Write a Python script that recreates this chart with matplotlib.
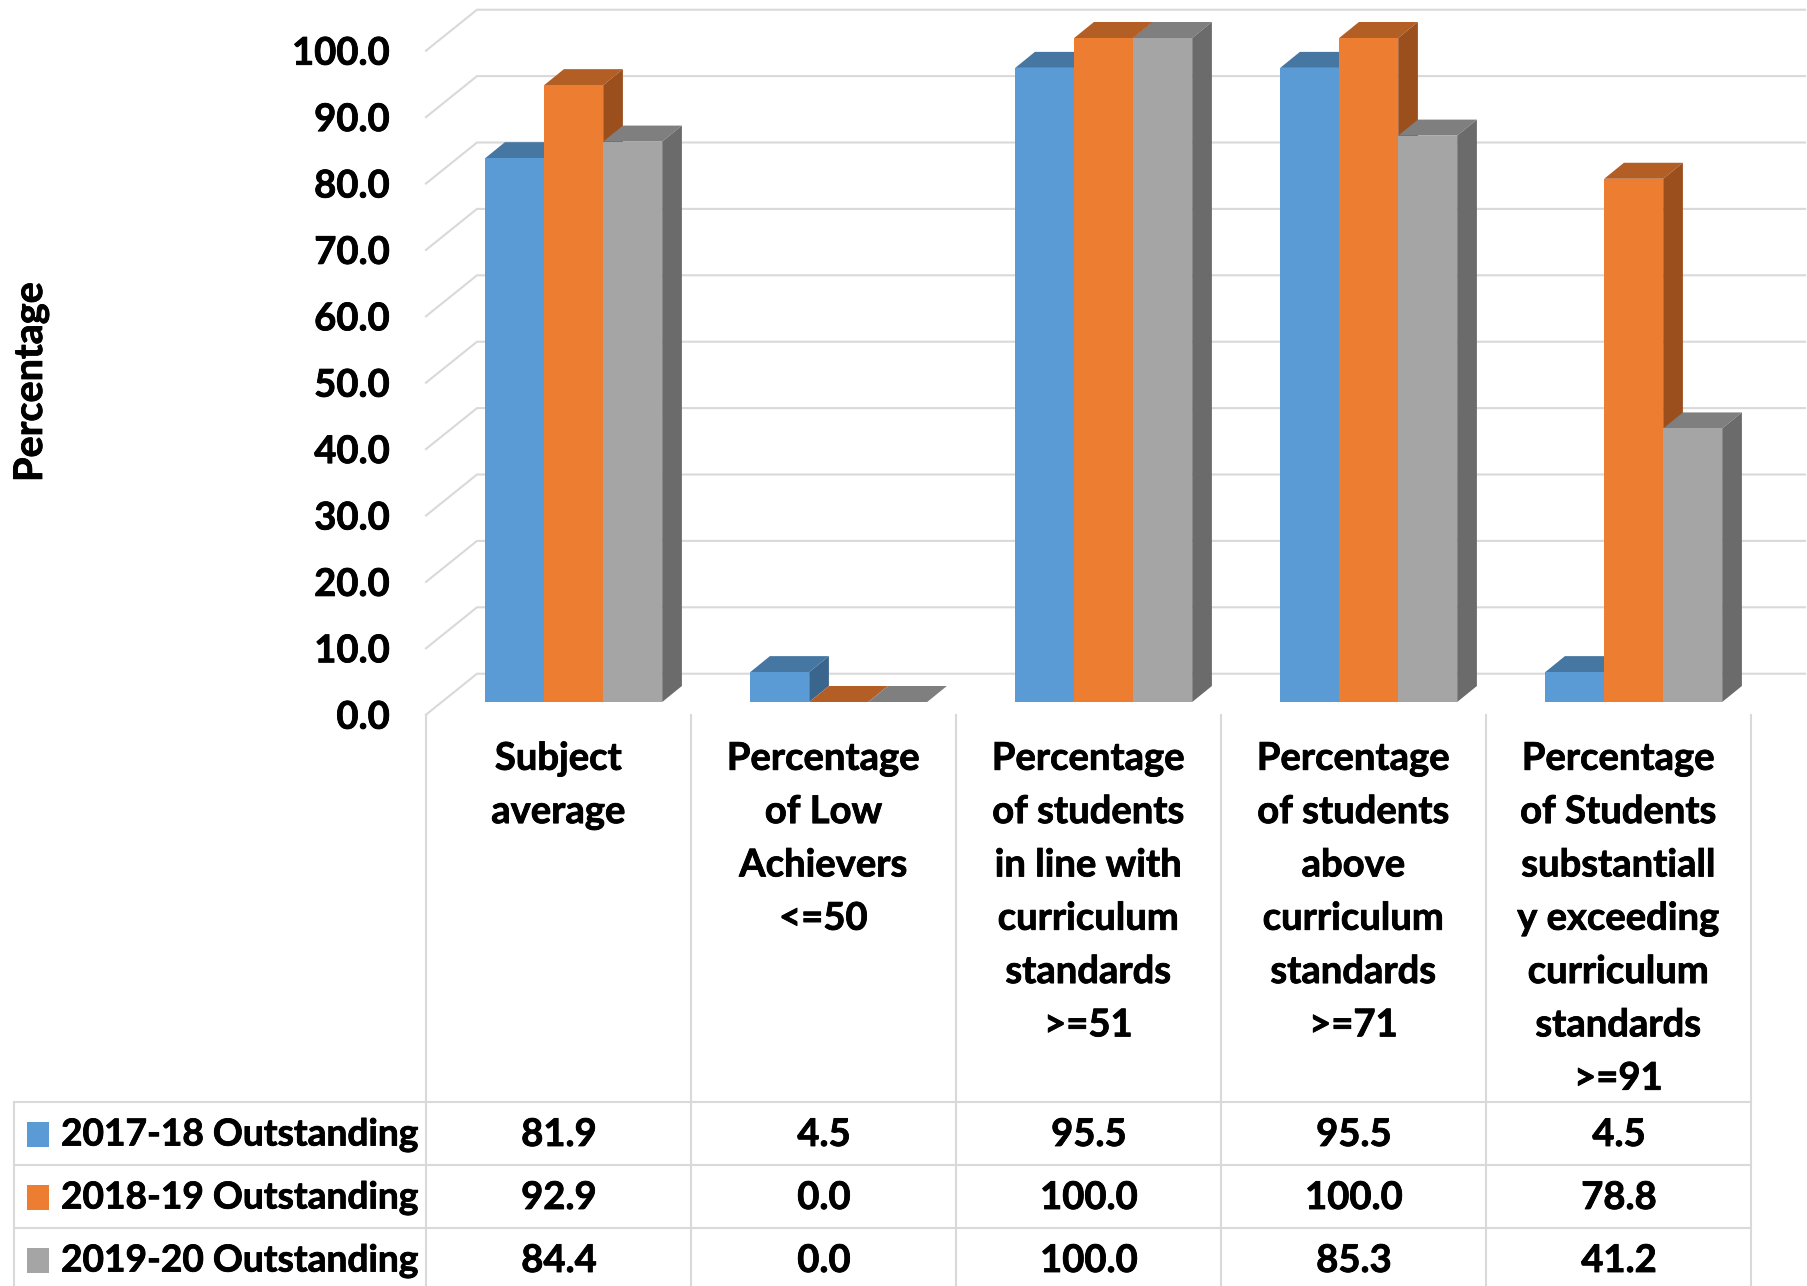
import numpy as np
import matplotlib
matplotlib.use('Agg')
import matplotlib.pyplot as plt
import matplotlib.patheffects as pe
from matplotlib.patches import Polygon, Rectangle
from matplotlib.text import Text

plt.rcParams['font.family'] = ['Lato', 'DejaVu Sans']
plt.rcParams['font.weight'] = 'bold'

# Data
categories = ['Subject\naverage',
              'Percentage\nof Low\nAchievers\n<=50',
              'Percentage\nof students\nin line with\ncurriculum\nstandards\n>=51',
              'Percentage\nof students\nabove\ncurriculum\nstandards\n>=71',
              'Percentage\nof Students\nsubstantiall\ny exceeding\ncurriculum\nstandards\n>=91']
series_names = ['2017-18 Outstanding', '2018-19 Outstanding', '2019-20 Outstanding']
values_1718 = [81.9, 4.5, 95.5, 95.5, 4.5]
values_1819 = [92.9, 0.0, 100.0, 100.0, 78.8]
values_1920 = [84.4, 0.0, 100.0, 85.3, 41.2]
y_ticks = [0, 10, 20, 30, 40, 50, 60, 70, 80, 90, 100]

# front, top, side colours for each series
front_colors = ['#5B9BD5', '#ED7D31', '#A5A5A5']
top_colors = ['#4677A3', '#B35E24', '#7F7F7F']
side_colors = ['#3A658D', '#9A4F1D', '#6B6B6B']
grid_color = '#D9D9D9'

W, H = 1808, 1286
FS = 27.5

fig = plt.figure(figsize=(W / 100, H / 100), dpi=100)
ax = fig.add_axes([426 / W, 1 - 714.7 / H, 1325 / W, 664 / H])
ax.set_xlim(-0.5, 4.5)
ax.set_ylim(0, 100)
for s in ax.spines.values():
    s.set_visible(False)
ax.patch.set_visible(False)

# depth of the fake 3d box, in data units
wall_dx, wall_dy = 51 / 265, 41 / 6.64
bar_dx, bar_dy = 19.7 / 265, 16 / 6.64
bar_w = 59 / 265
bar_shift = 15.2 / 265
bar_base = 12.7 / 6.64

# walls
for v in y_ticks:
    ax.plot([-0.5, -0.5 + wall_dx, 4.5 + 54 / 265], [v, v + wall_dy, v + wall_dy],
            color=grid_color, lw=1.5, clip_on=False, zorder=1)

# bars, drawn left to right so neighbours cover each other's sides
all_values = [values_1718, values_1819, values_1920]
for i in range(len(categories)):
    for j, vals in enumerate(all_values):
        v = vals[i]
        left = i + bar_shift + (j - 1.5) * bar_w
        right = left + bar_w
        top = v + bar_base
        z = 3 + i * 3 + j
        ax.bar(left, v, bar_w, bottom=bar_base, align='edge', color=front_colors[j],
               zorder=z + 0.2, clip_on=False)
        ax.add_patch(Polygon([(left, top), (right, top), (right + bar_dx, top + bar_dy),
                              (left + bar_dx, top + bar_dy)],
                             facecolor=top_colors[j], edgecolor='none', zorder=z, clip_on=False))
        ax.add_patch(Polygon([(right, bar_base), (right + bar_dx, bar_base + bar_dy),
                              (right + bar_dx, top + bar_dy), (right, top)],
                             facecolor=side_colors[j], edgecolor='none', zorder=z, clip_on=False))

ax.set_yticks(y_ticks)
ax.set_yticklabels([f'{v:.1f}' for v in y_ticks], fontsize=FS, fontweight='bold')
ax.tick_params(axis='y', length=0, pad=26)
ax.set_xticks(range(len(categories)))
ax.set_xticklabels(categories, fontsize=FS, fontweight='bold', linespacing=1.69)
ax.tick_params(axis='x', length=0, pad=19.5)

fig.text(31 / W, 1 - 382 / H, 'Percentage', rotation=90, ha='center', va='center',
         fontsize=FS + 1, fontweight='bold')

# data table, on a pixel overlay
tab = fig.add_axes([0, 0, 1, 1])
tab.set_xlim(0, W)
tab.set_ylim(H, 0)
tab.axis('off')
col_x = 426 + 265 * np.arange(6)
row_y = [1102, 1165, 1228, 1291]
for x in col_x:
    tab.plot([x, x], [715, H], color=grid_color, lw=1.5)
tab.plot([14.5, 14.5], [row_y[0], H], color=grid_color, lw=1.5)
for y in row_y[:3]:
    tab.plot([14.5, col_x[-1]], [y, y], color=grid_color, lw=1.5)
for j, vals in enumerate(all_values):
    yc = (row_y[j] + row_y[j + 1]) / 2
    tab.add_patch(Rectangle((27.5, yc - 12), 22, 25, facecolor=front_colors[j], edgecolor='none'))
    tab.text(61, yc + 1.5, series_names[j], ha='left', va='center', fontsize=26.7, fontweight='bold')
    for i, v in enumerate(vals):
        tab.text(col_x[i] + 133, yc + 1.5, f'{v:.1f}', ha='center', va='center',
                 fontsize=FS, fontweight='bold')
tab.set_xlim(0, W)
tab.set_ylim(H, 0)

# reference type is a touch heavier than Lato Bold
for t in fig.findobj(Text):
    t.set_path_effects([pe.withStroke(linewidth=0.6, foreground='black')])

fig.savefig('out.png', dpi=100)
